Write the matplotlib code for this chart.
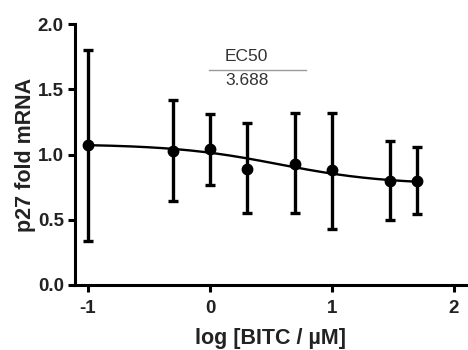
import numpy as np
import matplotlib
matplotlib.use('Agg')
import matplotlib.pyplot as plt

plt.rcParams['font.family'] = ['Liberation Sans', 'DejaVu Sans']
plt.rcParams['axes.unicode_minus'] = False

# log concentration of BITC (uM) and p27 fold mRNA
log_conc = [-1.0, -0.301, 0.0, 0.301, 0.699, 1.0, 1.477, 1.699]
fold = [1.07, 1.03, 1.04, 0.89, 0.93, 0.88, 0.80, 0.80]
err_upper = [1.80, 1.42, 1.31, 1.24, 1.32, 1.32, 1.10, 1.06]
err_lower = [0.34, 0.64, 0.77, 0.55, 0.55, 0.43, 0.50, 0.54]

# fitted curve (log(inhibitor) vs response)
top = 1.08
bottom = 0.77
ec50 = 3.688

x = np.array(log_conc)
y = np.array(fold)
yerr = np.array([y - np.array(err_lower), np.array(err_upper) - y])

fig = plt.figure(figsize=(4.68, 3.5), dpi=100)
ax = fig.add_axes([0.160, 0.186, 0.838, 0.745])

ax.errorbar(x, y, yerr=yerr, fmt='o', color='black', ms=7.5,
            elinewidth=2.4, capsize=3.8, capthick=2.4, zorder=3)

xs = np.linspace(x.min(), x.max(), 200)
ys = bottom + (top - bottom) / (1 + 10 ** (xs - np.log10(ec50)))
ax.plot(xs, ys, color='black', lw=1.7, zorder=2)

ax.set_xlim(-1.107, 2.107)
ax.set_ylim(0, 2.0)
ax.set_xticks([-1, 0, 1, 2])
ax.set_xticklabels(['-1', '0', '1', '2'])
ax.set_yticks([0.0, 0.5, 1.0, 1.5, 2.0])
ax.set_yticklabels(['0.0', '0.5', '1.0', '1.5', '2.0'])

for s in ['top', 'right']:
    ax.spines[s].set_visible(False)
for s in ['left', 'bottom']:
    ax.spines[s].set_linewidth(2.2)
ax.tick_params(width=2.2, length=5, labelsize=13.5)
ax.tick_params(axis='x', pad=6)
ax.tick_params(axis='y', pad=3)
for lab in ax.get_xticklabels() + ax.get_yticklabels():
    lab.set_fontweight('bold')
    lab.set_color('#222222')

ax.set_xlabel('log [BITC / µM]', fontsize=15.5, fontweight='bold', color='#222222', labelpad=8)
ax.set_ylabel('p27 fold mRNA', fontsize=15.5, fontweight='bold', color='#222222')
ax.yaxis.set_label_coords(-0.10, 0.5)

# EC50 table
ax.text(0.3, 1.75, 'EC50', ha='center', va='center', fontsize=12.5, color='#333333')
ax.plot([-0.01, 0.79], [1.648, 1.648], color='#999999', lw=1.0)
ax.text(0.3, 1.567, '%.3f' % ec50, ha='center', va='center', fontsize=12.5, color='#333333')

fig.savefig('out.png', dpi=100)
